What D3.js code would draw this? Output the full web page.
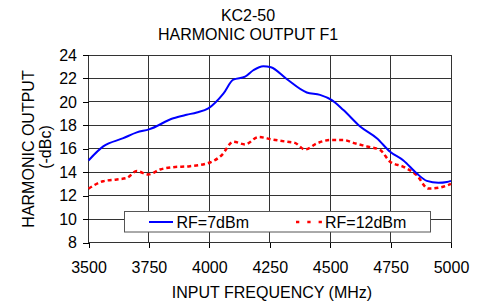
<!DOCTYPE html>
<html>
<head>
<meta charset="utf-8">
<script src="https://cdn.jsdelivr.net/npm/d3@7"></script>
<style>
  body { margin: 0; background: #fff; }
  text { font-family: "Liberation Sans", Arial, sans-serif; fill: #000; }
</style>
</head>
<body>
<svg id="chart" width="484" height="305"></svg>
<script>
const width = 484;
const height = 305;
const svg = d3.select("#chart");

const margin = { top: 55, right: 33, bottom: 62.5, left: 88.5 };
const fontSize = "16px";

// data
const freq7 = [3500, 3561, 3644, 3700, 3750, 3851, 3906, 3948, 3996, 4058, 4099, 4148, 4182, 4223, 4255, 4320, 4403, 4458, 4507, 4555, 4624, 4693, 4748, 4803, 4858, 4900, 4948, 4983, 5000];
const rf7 = [15.0, 16.2, 16.9, 17.4, 17.65, 18.6, 18.9, 19.1, 19.45, 20.7, 21.9, 22.15, 22.7, 23.05, 22.95, 21.95, 20.8, 20.6, 20.15, 19.3, 17.9, 16.9, 15.75, 15.0, 13.9, 13.26, 13.1, 13.17, 13.26];

const freq12 = [3500, 3561, 3617, 3658, 3700, 3747, 3796, 3851, 3920, 4003, 4051, 4099, 4148, 4203, 4258, 4320, 4354, 4396, 4444, 4499, 4555, 4603, 4651, 4706, 4748, 4803, 4858, 4906, 4955, 5000];
const rf12 = [12.6, 13.23, 13.38, 13.5, 14.1, 13.8, 14.23, 14.43, 14.51, 14.83, 15.45, 16.6, 16.37, 17.0, 16.8, 16.6, 16.5, 15.94, 16.45, 16.74, 16.74, 16.46, 16.2, 15.9, 14.9, 14.46, 13.75, 12.6, 12.7, 13.0];

const xTicks = [3500, 3750, 4000, 4250, 4500, 4750, 5000];
const yTicks = [8, 10, 12, 14, 16, 18, 20, 22, 24];
const seriesNames = ["RF=7dBm", "RF=12dBm"];

const x = d3.scaleLinear().domain([3500, 5000]).range([margin.left, width - margin.right]);
const y = d3.scaleLinear().domain([8, 24]).range([height - margin.bottom, margin.top]);

// title
svg.append("text").attr("x", 248).attr("y", 21).attr("text-anchor", "middle")
    .style("font-size", fontSize).text("KC2-50");
svg.append("text").attr("x", 248).attr("y", 40).attr("text-anchor", "middle")
    .style("font-size", fontSize).text("HARMONIC OUTPUT F1");

// grid
const grid = svg.append("g").attr("shape-rendering", "crispEdges");
grid.selectAll(".hgrid")
    .data(yTicks)
    .enter()
    .append("line")
    .attr("x1", x(3500)).attr("x2", x(5000))
    .attr("y1", d => y(d)).attr("y2", d => y(d))
    .attr("stroke", "#333");
grid.selectAll(".vgrid")
    .data(xTicks)
    .enter()
    .append("line")
    .attr("y1", y(8)).attr("y2", y(24))
    .attr("x1", d => x(d)).attr("x2", d => x(d))
    .attr("stroke", "#333");

// axes
const xAxis = svg.append("g")
    .attr("transform", "translate(0," + y(8) + ")")
    .call(d3.axisBottom(x).tickValues(xTicks).tickSize(5).tickPadding(14).tickFormat(d3.format("d")));
const yAxis = svg.append("g")
    .attr("transform", "translate(" + x(3500) + ",0)")
    .call(d3.axisLeft(y).tickValues(yTicks).tickSize(5.5).tickPadding(6).tickFormat(d3.format("d")));
[xAxis, yAxis].forEach(a => {
    a.select(".domain").remove();
    a.selectAll("line").attr("stroke", "#000").attr("shape-rendering", "crispEdges");
    a.selectAll("text").style("font-size", fontSize).style("font-family", "Liberation Sans, Arial, sans-serif");
});

// axis titles
svg.append("text").attr("x", 272).attr("y", 298).attr("text-anchor", "middle")
    .style("font-size", fontSize).text("INPUT FREQUENCY (MHz)");
svg.append("text").attr("transform", "translate(33.5,149) rotate(-90)").attr("text-anchor", "middle")
    .style("font-size", fontSize).text("HARMONIC OUTPUT");
svg.append("text").attr("transform", "translate(51,147) rotate(-90)").attr("text-anchor", "middle")
    .style("font-size", fontSize).text("(-dBc)");

// lines
const line = d3.line()
    .x(d => x(d[0]))
    .y(d => y(d[1]))
    .curve(d3.curveMonotoneX);

svg.append("path")
    .datum(d3.zip(freq12, rf12))
    .attr("d", line)
    .attr("fill", "none")
    .attr("stroke", "#ff0000")
    .attr("stroke-width", 2.5)
    .attr("stroke-dasharray", "4,3");

svg.append("path")
    .datum(d3.zip(freq7, rf7))
    .attr("d", line)
    .attr("fill", "none")
    .attr("stroke", "#0000ff")
    .attr("stroke-width", 2);

// legend
const legend = svg.append("g");
legend.append("rect")
    .attr("x", 124.5).attr("y", 211.5).attr("width", 306).attr("height", 20.5)
    .attr("fill", "#fff").attr("stroke", "#555");
legend.append("line").attr("x1", 149).attr("x2", 173).attr("y1", 222).attr("y2", 222)
    .attr("stroke", "#0000ff").attr("stroke-width", 2);
legend.append("text").attr("x", 176.5).attr("y", 228.3).style("font-size", fontSize).text(seriesNames[0]);
legend.append("line").attr("x1", 296).attr("x2", 322).attr("y1", 222).attr("y2", 222)
    .attr("stroke", "#ff0000").attr("stroke-width", 2.5).attr("stroke-dasharray", "3.3,8");
legend.append("text").attr("x", 325).attr("y", 228.3).style("font-size", fontSize).text(seriesNames[1]);
</script>
</body>
</html>
